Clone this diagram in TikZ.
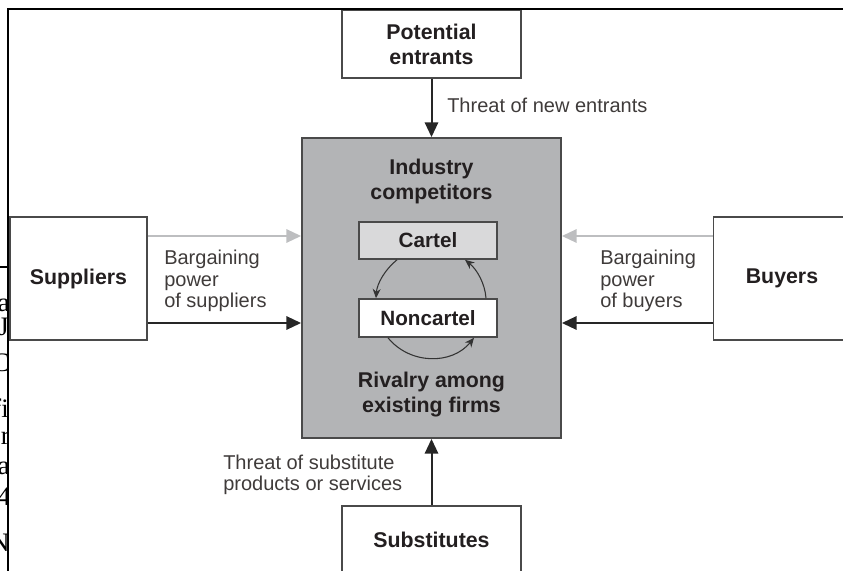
\documentclass[tikz,border=0pt]{standalone}
\usepackage{fontspec}
\setmainfont{Liberation Sans}
\newfontfamily\fragfont{Liberation Serif}
\usetikzlibrary{arrows.meta,calc}
\definecolor{boxline}{HTML}{4A4A4A}
\definecolor{indfill}{HTML}{B3B4B6}
\definecolor{cartfill}{HTML}{D9D9DA}
\definecolor{arrgray}{HTML}{BDBEC0}
\definecolor{txtdark}{HTML}{231F20}
\definecolor{txtlab}{HTML}{3F3B3A}
\begin{document}
\begin{tikzpicture}[x=0.75pt,y=-0.75pt,
  box/.style={draw=boxline, line width=1.4pt, fill=white, inner sep=0pt, align=center,
    text=txtdark, font=\fontsize{16}{18.75}\selectfont\bfseries},
  smallbox/.style={box, line width=1.2pt, font=\fontsize{15.5}{18}\selectfont\bfseries},
  head/.style={text=txtdark, align=center, inner sep=0pt,
    font=\fontsize{16}{18.75}\selectfont\bfseries},
  lab/.style={text=txtlab, align=left, anchor=west, inner sep=0pt,
    font=\fontsize{15}{16}\selectfont},
  blk/.style={draw=black!85, line width=1.5pt, -{Triangle[length=11pt,width=10pt]}},
  gry/.style={draw=arrgray, line width=1.5pt, -{Triangle[length=11pt,width=10pt]}},
  cyc/.style={draw=black!80, line width=0.8pt, -{Stealth[length=7pt,width=6pt]}},
  frag/.style={anchor=east, inner sep=0pt, text=black, font=\fontsize{20}{22}\fragfont},
  frame/.style={draw=black, line width=1.5pt}
]
\useasboundingbox (0,0) rectangle (843,571);
\clip (0,0) rectangle (843,571);

% boxes
\node[box, minimum width=134.25pt, minimum height=51pt] (pe) at (431.5,44) {Potential\\entrants};
\node[box, fill=indfill, minimum width=194.25pt, minimum height=225pt] (ind) at (431.5,288) {};
\node[head] (indt) at (431.5,181) {Industry\\competitors};
\node[smallbox, fill=cartfill, minimum width=103.5pt, minimum height=27.75pt] (cart) at (428,240.5) {Cartel};
\node[smallbox, minimum width=103.5pt, minimum height=28.5pt] (ncart) at (428,318) {Noncartel};
\node[head] (riv) at (431.5,395) {Rivalry among\\existing firms};
\node[box, minimum width=102.75pt, minimum height=92.25pt] (sup) at (78.5,278.5) {Suppliers};
\node[box, minimum width=102.75pt, minimum height=92.25pt] (buy) at (782,278.5) {Buyers};
\node[box, minimum width=134.25pt, minimum height=51pt] (subs) at (431.5,540) {Substitutes};

% labels
\node[lab] (l1) at (447,105) {Threat of new entrants};
\node[lab] (l2) at (164,281) {Bargaining\\power\\of suppliers};
\node[lab] (l3) at (600,281) {Bargaining\\power\\of buyers};
\node[lab] (l4) at (223,475) {Threat of substitute\\products or services};

% arrows
\coordinate (ya) at (0,236);
\coordinate (yb) at (0,323);
\draw[gry] (sup.east |- ya) -- (ind.west |- ya);
\draw[blk] (sup.east |- yb) -- (ind.west |- yb);
\draw[gry] (buy.west |- ya) -- (ind.east |- ya);
\draw[blk] (buy.west |- yb) -- (ind.east |- yb);
\draw[blk] (pe) -- (ind);
\draw[blk] (subs) -- (ind);

% cycle arcs
\draw[cyc] ($(cart.south)+(-31,0)$) .. controls (385,269.5) and (377,283.6) .. ($(ncart.north)+(-52,0)$);
\draw[cyc] ($(ncart.north)+(58,0)$) .. controls (485,283.6) and (477,269.5) .. ($(cart.south)+(37,0)$);
\draw[cyc] ($(ncart.south)+(-40,0)$) .. controls (410,364.8) and (452,365) .. ($(ncart.south)+(46,0)$);

% page fragments at the left edge
\begin{scope}
\clip (0,268) rectangle (8,571);
\node[frag] (f1) at (10,305) {a};
\node[frag] (f2) at (9,327) {J};
\node[frag] (f3) at (10,363) {C};
\node[frag] (f4) at (9,408) {fi};
\node[frag] (f5) at (10,438) {r};
\node[frag] (f6) at (10,468) {a};
\node[frag] (f7) at (11,497) {4};
\node[frag] (f8) at (10,543) {N};
\end{scope}

% frame lines
\coordinate (fa) at (0,267);
\coordinate (fb) at (8,267);
\coordinate (fc) at (8,571);
\coordinate (fd) at (8,8.5);
\coordinate (fe) at (843,8.5);
\draw[frame] (fa) -- (fb);
\draw[frame] (fc) -- (fd) -- (fe);
\end{tikzpicture}
\end{document}
